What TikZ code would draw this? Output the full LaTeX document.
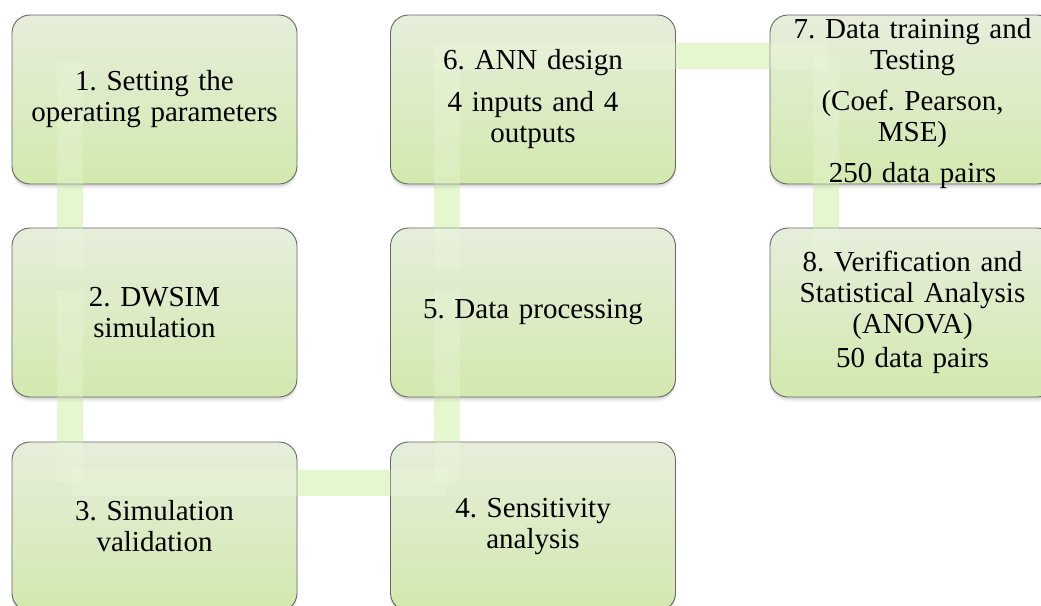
\documentclass[tikz,border=0pt]{standalone}
\usepackage{fontspec}
\setmainfont{Liberation Serif}
\frenchspacing
\usetikzlibrary{calc,shadows}
\definecolor{boxtop}{HTML}{E6EEDB}
\definecolor{boxbot}{HTML}{D2E9AE}
\definecolor{bandc}{HTML}{E1F6C8}
\definecolor{edgec}{HTML}{666666}
\pgfdeclarelayer{background}
\pgfsetlayers{background,main}
\tikzset{
  softshadow/.style={
    drop shadow={shadow xshift=0pt, shadow yshift=-5pt, opacity=0.06},
    drop shadow={shadow xshift=0pt, shadow yshift=-3.5pt, opacity=0.10},
    drop shadow={shadow xshift=0pt, shadow yshift=-2pt, opacity=0.15}},
  stepbox/.style={rectangle, rounded corners=18pt, minimum width=285pt,
    minimum height=169pt, inner sep=0pt,
    draw=edgec, line width=0.9pt, top color=boxtop, bottom color=boxbot,
    softshadow},
  steptext/.style={text width=275pt, align=center, inner sep=0pt,
    font=\fontsize{29}{31}\selectfont, text=black},
  band/.style={draw=bandc, line width=26pt},
  bandfaint/.style={draw=bandc!60!white, line width=26pt, draw opacity=0.3},
}
\begin{document}
\begin{tikzpicture}[x=1pt,y=-1pt]
\useasboundingbox (0,0) rectangle (1041,605);
% boxes
\node[stepbox] (b1) at (154.5,99.5) {};
\node[stepbox] (b2) at (154.5,312.5) {};
\node[stepbox] (b3) at (154.5,526.5) {};
\node[stepbox] (b4) at (533,526.5) {};
\node[stepbox] (b5) at (533,312.5) {};
\node[stepbox] (b6) at (533,99.5) {};
\node[stepbox] (b7) at (912.5,99.5) {};
\node[stepbox] (b8) at (912.5,312.5) {};
% connectors (bands)
\begin{pgfonlayer}{background}
\fill[white] (0,0) rectangle (1041,605);
\draw[band] ($(b1.north west)+(58,47)$) -- ($(b2.north west)+(58,42)$);
\draw[band] ($(b2.north west)+(58,62)$) -- ($(b3.north west)+(58,40)$);
\draw[band] ($(b3.north west)+(60,41)$) -- ($(b4.north west)+(57,41)$);
\draw[band] ($(b4.north west)+(57,40)$) -- ($(b5.north west)+(57,62)$);
\draw[band] ($(b5.north west)+(57,42)$) -- ($(b6.north west)+(57,47)$);
\draw[band] ($(b6.north west)+(44,41)$) -- ($(b7.north west)+(57,41)$);
\draw[band] ($(b7.north west)+(56,42)$) -- ($(b8.north west)+(56,41)$);
\end{pgfonlayer}
\draw[bandfaint] ($(b1.north west)+(58,47)$) -- ($(b2.north west)+(58,42)$);
\draw[bandfaint] ($(b2.north west)+(58,62)$) -- ($(b3.north west)+(58,40)$);
\draw[bandfaint] ($(b3.north west)+(60,41)$) -- ($(b4.north west)+(57,41)$);
\draw[bandfaint] ($(b4.north west)+(57,40)$) -- ($(b5.north west)+(57,62)$);
\draw[bandfaint] ($(b5.north west)+(57,42)$) -- ($(b6.north west)+(57,47)$);
\draw[bandfaint] ($(b6.north west)+(44,41)$) -- ($(b7.north west)+(57,41)$);
\draw[bandfaint] ($(b7.north west)+(56,42)$) -- ($(b8.north west)+(56,41)$);
% texts
\node[steptext] (t1) at (b1) {1. Setting the\\operating parameters};
\node[steptext] (t2) at (b2) {2. DWSIM\\simulation};
\node[steptext] (t3) at (b3) {3. Simulation\\validation};
\node[steptext] (t4) at (b4) {4. Sensitivity\\analysis};
\node[steptext] (t5) at (b5) {5. Data processing};
\node[steptext] (t6) at (b6) {6. ANN design\\[11pt]4 inputs and 4\\outputs};
\node[steptext] (t7) at ([yshift=-4pt]b7.center) {7. Data training and\\Testing\\[10pt](Coef. Pearson,\\MSE)\\[10pt]250 data pairs};
\node[steptext] (t8) at (b8) {8. Verification and\\Statistical Analysis\\(ANOVA)\\[3pt]50 data pairs};
\end{tikzpicture}
\end{document}
